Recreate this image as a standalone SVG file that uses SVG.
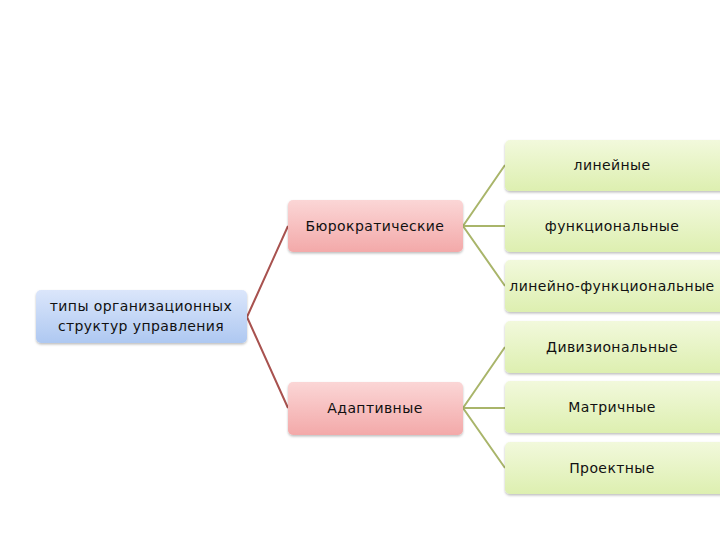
<svg xmlns="http://www.w3.org/2000/svg" width="720" height="540" viewBox="0 0 720 540">
<defs>
<linearGradient id="gBlue" x1="0" y1="0" x2="0" y2="1"><stop offset="0" stop-color="#dbe6fb"/><stop offset="1" stop-color="#aec8f1"/></linearGradient>
<linearGradient id="gPink" x1="0" y1="0" x2="0" y2="1"><stop offset="0" stop-color="#fbd6d6"/><stop offset="1" stop-color="#f3a9a9"/></linearGradient>
<linearGradient id="gGreen" x1="0" y1="0" x2="0" y2="1"><stop offset="0" stop-color="#f2f9dc"/><stop offset="1" stop-color="#ddefb0"/></linearGradient>
<filter id="sh" x="-10%" y="-10%" width="120%" height="130%"><feDropShadow dx="0" dy="1.5" stdDeviation="1.2" flood-color="#000" flood-opacity="0.25"/></filter>
</defs>
<style>
text{font-family:"DejaVu Sans","Liberation Sans",sans-serif;font-size:14px;fill:#111;text-anchor:middle;letter-spacing:0.4px}
.blue{fill:url(#gBlue);filter:url(#sh)}
.pink{fill:url(#gPink);filter:url(#sh)}
.green{fill:url(#gGreen);filter:url(#sh)}
.red{stroke:#a8524f;stroke-width:2;fill:none}
.olive{stroke:#a9b56a;stroke-width:2;fill:none}
</style>
<rect width="720" height="540" fill="#fff"/>
<g id="connectors">
<path class="red" d="M247,317 L288,226 M247,317 L288,408"/>
<path class="olive" d="M463,226 L505,165 M463,226 L505,226 M463,226 L505,286"/>
<path class="olive" d="M463,408 L505,347 M463,408 L505,408 M463,408 L505,468"/>
</g>
<g id="root"><rect class="blue" x="36" y="290" width="211" height="53" rx="5"/><text x="141" y="311">типы организационных</text><text x="141" y="331">структур управления</text></g>
<g id="bur"><rect class="pink" x="288" y="200" width="175" height="52" rx="5"/><text x="375" y="231">Бюрократические</text></g>
<g id="adapt"><rect class="pink" x="288" y="382" width="175" height="53" rx="5"/><text x="375" y="413">Адаптивные</text></g>
<g id="n1"><rect class="green" x="505" y="140" width="222" height="51" rx="5"/><text x="612" y="170">линейные</text></g>
<g id="n2"><rect class="green" x="505" y="200" width="222" height="52" rx="5"/><text x="612" y="231">функциональные</text></g>
<g id="n3"><rect class="green" x="505" y="260" width="222" height="52" rx="5"/><text x="612" y="291">линейно-функциональные</text></g>
<g id="n4"><rect class="green" x="505" y="321" width="222" height="52" rx="5"/><text x="612" y="352">Дивизиональные</text></g>
<g id="n5"><rect class="green" x="505" y="381" width="222" height="52" rx="5"/><text x="612" y="412">Матричные</text></g>
<g id="n6"><rect class="green" x="505" y="442" width="222" height="52" rx="5"/><text x="612" y="473">Проектные</text></g>
</svg>
